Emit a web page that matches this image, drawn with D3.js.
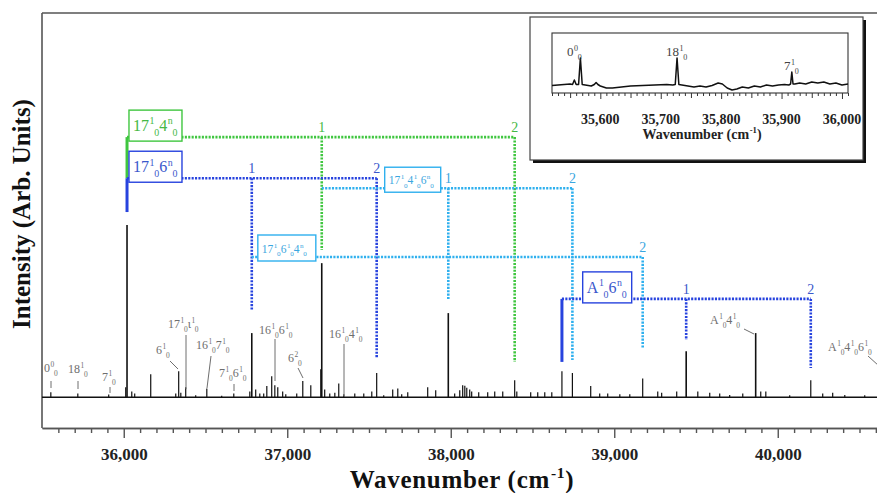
<!DOCTYPE html>
<html><head><meta charset="utf-8">
<script src="https://cdn.jsdelivr.net/npm/d3@7"></script>
<style>
body{margin:0;background:#fff;}
svg{display:block;font-family:"Liberation Serif","Times New Roman",serif;}
</style></head><body>
<svg id="chart" width="877" height="493"></svg>
<script>
// ---------------- spectrum data ----------------
// Main REMPI spectrum: peak positions (cm-1) and relative intensities
const peakWavenumbers = [35554,35719,35908,36012,36020,36049,36067,36165,36318,36336,36349,36379,36440,36508,36599,36673,
  36771,36783,36807,36832,36856,36875,36905,36924,36942,36972,36991,37058,37095,37144,37205,37211,37229,37260,37291,37315,
  37346,37413,37468,37517,37547,37590,37645,37676,37700,37737,37859,37908,37985,38024,38055,38073,38086,38098,38116,38128,
  38171,38226,38269,38318,38391,38404,38489,38532,38575,38618,38680,38744,38856,38911,38960,39034,39095,39174,39266,39290,
  39382,39440,39511,39584,39645,39706,39786,39865,39896,39927,40073,40202,40275,40336,40410,40532];
const peakIntensities = [1.3,1.0,0.7,2.6,44.8,1.5,1.0,6.0,1.0,6.8,1.2,2.6,0.5,2.3,0.4,1.0,
  1.5,16.7,2.0,1.0,1.0,2.9,5.5,3.1,2.6,1.5,0.8,1.0,4.2,3.1,7.3,34.9,2.0,1.0,1.2,3.6,
  0.8,1.0,1.0,1.5,6.3,0.5,2.0,2.3,0.8,1.3,2.6,1.8,21.9,1.0,1.8,3.1,3.0,2.5,2.0,1.5,
  1.3,1.3,1.5,1.5,4.4,1.5,1.3,1.3,1.3,1.3,6.8,6.3,2.9,1.0,1.0,0.8,0.8,4.9,1.5,1.2,
  1.5,12.0,1.5,1.2,1.0,0.6,1.0,16.7,1.5,1.5,0.5,4.4,1.0,1.2,0.6,0.5];

// Inset: low-energy region trace (cm-1, relative signal)
const insetWavenumbers = [35520,35530,35540,35550,35554,35557,35560,35564,35567,35570,35575,35585,35590,35593,35596,35600,
  35610,35620,35635,35650,35670,35690,35710,35720,35724,35727,35730,35735,35745,35755,35765,35775,35785,35795,35802,
  35810,35818,35826,35835,35845,35855,35865,35875,35885,35895,35905,35912,35915,35917,35919,35922,35930,35940,35950,
  35960,35970,35980,35990,36000,36010];
const insetIntensities = [-0.5,0,0.5,1,0.5,5,0.5,0.5,27,0.5,0,-1,0.5,2.5,0.5,-1,
  -3,-3,-2,-1,-0.5,0,0.5,0,0.5,27,0.5,0,-1,-2,-1,-2,-0.5,2,1,
  -3,-5,-4,-2,-3,-1,-2,0,-1,0,0.5,0,1,13,1,1,2,1,3,
  2,3,1,2,0,1];

// Axis ticks
const mainTickValues = [36000, 37000, 38000, 39000, 40000];
const insetTickValues = [35600, 35700, 35800, 35900, 36000];

// Vibronic progressions: label parts [base, superscript, subscript], origin band, members
const progLabels = [
  [["17","1","0"],["4","n","0"]],
  [["17","1","0"],["6","n","0"]],
  [["17","1","0"],["4","1","0"],["6","n","0"]],
  [["17","1","0"],["6","1","0"],["4","n","0"]],
  [["A","1","0"],["6","n","0"]]
];
const progOrigins = [36020, 36020, 37211, 36783, 38680];
const progMembers = [[37211, 38391], [36783, 37547], [37985, 38744], [39174], [39440, 40202]];
const progQuanta = [[1, 2], [1, 2], [1, 2], [2], [1, 2]];

// Assignment labels for individual bands
const bandLabels = [
  [["0","0","0"]], [["18","1","0"]], [["7","1","0"]], [["6","1","0"]],
  [["17","1","0"],["ι","1","0"]], [["16","1","0"],["7","1","0"]], [["7","1","0"],["6","1","0"]],
  [["16","1","0"],["6","1","0"]], [["6","2","0"]], [["16","1","0"],["4","1","0"]],
  [["A","1","0"],["4","1","0"]], [["A","1","0"],["4","1","0"],["6","1","0"]]
];
const insetBandLabels = [[["0","0","0"]], [["18","1","0"]], [["7","1","0"]]];

// ---------------- layout ----------------
const svg = d3.select("#chart");
const plot = {left: 42, top: 13, bottom: 428};
const x = d3.scaleLinear().domain([35500, 40700]).range([plot.left, plot.left + 5200 * 0.1635]);
const y = d3.scaleLinear().domain([-8, 100]).range([plot.bottom, plot.top]);

const progColors = ["#3fc63f", "#2743de", "#2fb0ee", "#2fb0ee", "#2743de"];
const progTextColors = ["#45b845", "#3a58cc", "#3aa6e0", "#3aa6e0", "#3a58cc"];
const progLevels = [67.7, 57.0, 54.4, 36.5, 25.6];          // bracket heights (intensity units)
const progOriginEnds = [57.0, 48.2, null, null, 9.2];       // solid origin marker lower end
const progDropEnds = [[38.3, 9.2], [22.5, 10.2], [25.3, 9.7], [12.8], [14.9, 7.6]];
const progBoxAt = [36032, 36032, 37596, 36820, 38807];      // box left edge (cm-1)
const progBoxW = [53, 53, 56, 58, 49];
const progBoxH = [31, 31, 25, 26, 31];
const progFont = [16, 16, 11.5, 11.5, 16];

// rich text with stacked super/subscripts
function rich(g, tx, ty, parts, fs, color, weight) {
  const t = g.append("text").attr("x", tx).attr("y", ty).attr("fill", color)
    .style("font-size", fs + "px").style("font-weight", weight || "normal");
  let cur = 0;
  parts.forEach(p => {
    t.append("tspan").attr("dy", -cur).text(p[0]); cur = 0;
    if (p[1] != null) {
      const d = -0.42 * fs;
      t.append("tspan").attr("dy", d - cur).attr("dx", 0.04 * fs).style("font-size", (0.62 * fs) + "px").text(p[1]); cur = d;
    }
    if (p[2] != null) {
      const d = 0.3 * fs;
      t.append("tspan").attr("dy", d - cur).attr("dx", -0.02 * fs).style("font-size", (0.62 * fs) + "px").text(p[2]); cur = d;
    }
  });
  return t;
}

// ---------------- frame and axes ----------------
const frameColor = "#555";
svg.append("line").attr("x1", plot.left).attr("x2", plot.left).attr("y1", plot.top).attr("y2", plot.bottom)
  .attr("stroke", frameColor).attr("stroke-width", 1.6);
svg.append("line").attr("x1", plot.left).attr("x2", 900).attr("y1", plot.top).attr("y2", plot.top)
  .attr("stroke", frameColor).attr("stroke-width", 1.6);

const minorTicks = d3.range(35600, 40700, 100).filter(v => v % 1000 !== 0);
const minorAxis = svg.append("g").attr("transform", `translate(0,${plot.bottom})`)
  .call(d3.axisBottom(x).tickValues(minorTicks).tickSize(5).tickSizeOuter(0).tickFormat(""));
const majorAxis = svg.append("g").attr("transform", `translate(0,${plot.bottom})`)
  .call(d3.axisBottom(x).tickValues(mainTickValues).tickSize(10).tickSizeOuter(0).tickPadding(10)
    .tickFormat(d3.format(",")));
[minorAxis, majorAxis].forEach(a => {
  a.select(".domain").attr("stroke", frameColor).attr("stroke-width", 1.6);
  a.selectAll(".tick line").attr("stroke", frameColor).attr("stroke-width", 1.4);
});
majorAxis.selectAll(".tick text").attr("fill", "#222")
  .style("font-family", "'Liberation Serif',serif").style("font-size", "17px").style("font-weight", "bold");

rich(svg, 462, 488, [["Wavenumber (cm", "-1", null], [")", null, null]], 25, "#111", "bold")
  .attr("text-anchor", "middle").style("letter-spacing", "0.7px");
svg.append("text").attr("transform", "translate(30,214) rotate(-90)").attr("text-anchor", "middle")
  .attr("fill", "#111").style("font-size", "25px").style("font-weight", "bold").text("Intensity (Arb. Units)");

// ---------------- spectrum ----------------
const spec = svg.append("g");
spec.append("line").attr("x1", x(35500)).attr("x2", 900).attr("y1", y(0)).attr("y2", y(0))
  .attr("stroke", "#111").attr("stroke-width", 1.4);
spec.selectAll("line.peak").data(peakWavenumbers).join("line").attr("class", "peak")
  .attr("x1", d => x(d)).attr("x2", d => x(d))
  .attr("y1", y(0)).attr("y2", (d, i) => y(peakIntensities[i]))
  .attr("stroke", "#111").attr("stroke-width", (d, i) => peakIntensities[i] > 10 ? 1.6 : 1.2);

// ---------------- band assignment labels ----------------
const gray = "#6e6e6e";
const bandLayout = [
  {tx: 44, ty: 372, lead: [51, 381, 51, 388]},
  {tx: 68, ty: 373, lead: [78, 381, 78, 389]},
  {tx: 102, ty: 381, lead: [110, 387, 110, 393]},
  {tx: 156, ty: 354, lead: [170, 361, 178, 369]},
  {tx: 168, ty: 328, lead: [186, 335, 186, 389]},
  {tx: 196, ty: 349, lead: [211, 356, 207, 388]},
  {tx: 219, ty: 377, lead: [234, 384, 234, 391]},
  {tx: 259, ty: 334, lead: [275, 339, 275, 381]},
  {tx: 288, ty: 362, lead: [298, 368, 303, 378]},
  {tx: 329, ty: 338, lead: [344, 344, 344, 396]},
  {tx: 710, ty: 324, lead: [744, 329, 754, 334]},
  {tx: 828, ty: 351, lead: [868, 356, 879, 366]}
];
bandLabels.forEach((parts, i) => {
  const L = bandLayout[i];
  rich(svg, L.tx, L.ty, parts, 12, gray);
  svg.append("line").attr("x1", L.lead[0]).attr("y1", L.lead[1]).attr("x2", L.lead[2]).attr("y2", L.lead[3])
    .attr("stroke", gray).attr("stroke-width", 1);
});

// ---------------- progressions ----------------
const dots = "2.1,1.3";
const progG = svg.append("g");
progLabels.forEach((parts, i) => {
  const c = progColors[i];
  const ly = y(progLevels[i]);
  const members = progMembers[i];
  const last = members[members.length - 1];
  // horizontal bracket
  progG.append("line").attr("x1", x(progOrigins[i])).attr("x2", x(last)).attr("y1", ly).attr("y2", ly)
    .attr("stroke", c).attr("stroke-width", 2.6).attr("stroke-dasharray", dots);
  // drop lines to members
  members.forEach((m, j) => {
    progG.append("line").attr("x1", x(m)).attr("x2", x(m)).attr("y1", ly).attr("y2", y(progDropEnds[i][j]))
      .attr("stroke", c).attr("stroke-width", 2.6).attr("stroke-dasharray", dots);
    progG.append("text").attr("x", x(m)).attr("y", ly - 5).attr("text-anchor", "middle")
      .attr("fill", progTextColors[i]).style("font-size", "14px").text(progQuanta[i][j]);
  });
  // solid origin marker
  if (progOriginEnds[i] != null) {
    progG.append("line").attr("x1", x(progOrigins[i])).attr("x2", x(progOrigins[i]))
      .attr("y1", ly).attr("y2", y(progOriginEnds[i])).attr("stroke", c).attr("stroke-width", 3);
  }
});
// label boxes on top
progLabels.forEach((parts, i) => {
  const ly = y(progLevels[i]);
  const bx = x(progBoxAt[i]), bh = progBoxH[i], by = ly - bh + 4;
  progG.append("rect").attr("x", bx).attr("y", by).attr("width", progBoxW[i]).attr("height", bh)
    .attr("fill", "#fff").attr("stroke", progColors[i]).attr("stroke-width", 1.4);
  rich(progG, bx + 4, by + bh * 0.68, parts, progFont[i], progTextColors[i]);
});

// ---------------- inset ----------------
const inset = svg.append("g");
const ib = {x: 530, y: 17, w: 333, h: 143};
inset.append("rect").attr("x", ib.x + 3).attr("y", ib.y + 3).attr("width", ib.w).attr("height", ib.h).attr("fill", "#111");
inset.append("rect").attr("x", ib.x).attr("y", ib.y).attr("width", ib.w).attr("height", ib.h)
  .attr("fill", "#fff").attr("stroke", "#444").attr("stroke-width", 1.2);

const ix = d3.scaleLinear().domain([35520, 36010]).range([552, 848]);
const iy = d3.scaleLinear().domain([-8, 52]).range([93, 33]);
inset.append("rect").attr("x", 552).attr("y", 33).attr("width", 296).attr("height", 60)
  .attr("fill", "none").attr("stroke", "#333").attr("stroke-width", 1.1);

const insetMinor = d3.range(35520, 36011, 10);
const insetAxis = inset.append("g").attr("transform", "translate(0,93)")
  .call(d3.axisBottom(ix).tickValues(insetMinor).tickSizeOuter(0).tickFormat(""));
insetAxis.select(".domain").remove();
insetAxis.selectAll(".tick line").attr("stroke", "#333").attr("stroke-width", 1)
  .attr("y2", d => d % 100 === 0 ? 6 : (d % 50 === 0 ? 5 : 3));
inset.selectAll("text.itick").data(insetTickValues).join("text").attr("class", "itick")
  .attr("x", d => ix(d)).attr("y", 124).attr("text-anchor", "middle").attr("fill", "#222")
  .style("font-size", "14px").style("font-weight", "bold").text(d3.format(","));
rich(inset, 702, 139, [["Wavenumber (cm", "-1", null], [")", null, null]], 14, "#222", "bold")
  .attr("text-anchor", "middle");

inset.append("path")
  .attr("d", d3.line().x(d => ix(d[0])).y(d => iy(d[1]))(insetWavenumbers.map((w, i) => [w, insetIntensities[i]])))
  .attr("fill", "none").attr("stroke", "#111").attr("stroke-width", 1.5).attr("stroke-linejoin", "round");

const insetLabelLayout = [{tx: 567, ty: 56}, {tx: 666, ty: 56}, {tx: 784, ty: 70}];
insetBandLabels.forEach((parts, i) => rich(inset, insetLabelLayout[i].tx, insetLabelLayout[i].ty, parts, 13, "#444"));
</script></body></html>
